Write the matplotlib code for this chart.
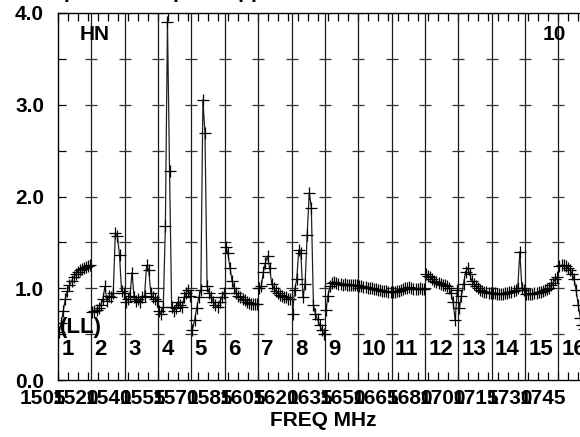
import matplotlib
matplotlib.use('Agg')
import matplotlib.pyplot as plt
import matplotlib.transforms as mtransforms
import numpy as np

plt.rcParams['font.family'] = ['Liberation Sans', 'DejaVu Sans']

# ---------------- data ----------------
if_numbers = list(range(1, 17))
freq_labels = ['1505', '1520', '1540', '1555', '1570', '1585', '1605', '1620',
               '1635', '1650', '1665', '1680', '1700', '1715', '1730', '1745']
y_ticks = [0.0, 1.0, 2.0, 3.0, 4.0]
y_labels = ['0.0', '1.0', '2.0', '3.0', '4.0']

if01 = [0.52, 0.62, 0.75, 0.88, 0.97, 1.03, 1.08, 1.12, 1.15, 1.18, 1.20, 1.21, 1.22, 1.23, 1.24, 1.25]
if02 = [0.74, 0.75, 0.76, 0.78, 0.82, 0.88, 1.02, 0.86, 0.92, 0.90, 0.95, 1.60, 1.57, 1.36, 0.97, 0.95]
if03 = [0.85, 0.88, 0.92, 1.17, 0.90, 0.86, 0.88, 0.85, 0.90, 0.92, 1.25, 1.20, 0.95, 0.90, 0.88, 0.86]
if04 = [0.75, 0.72, 0.80, 1.68, 3.90, 2.28, 0.80, 0.75, 0.78, 0.85, 0.82, 0.80, 0.90, 0.95, 0.98, 0.92]
if05 = [0.55, 0.65, 0.78, 0.90, 0.98, 3.05, 2.69, 1.02, 0.95, 0.90, 0.85, 0.82, 0.80, 0.85, 0.90, 0.95]
if06 = [1.45, 1.38, 1.22, 1.08, 1.00, 0.95, 0.92, 0.90, 0.88, 0.87, 0.85, 0.84, 0.83, 0.83, 0.83, 0.83]
if07 = [1.00, 1.02, 1.18, 1.28, 1.35, 1.22, 1.05, 1.00, 0.97, 0.95, 0.93, 0.92, 0.90, 0.90, 0.88, 0.88]
if08 = [0.72, 0.98, 1.10, 1.42, 1.38, 0.90, 1.05, 1.58, 2.04, 1.88, 0.82, 0.72, 0.66, 0.60, 0.55, 0.50]
if09 = [0.76, 0.92, 1.02, 1.06, 1.07, 1.06, 1.05, 1.05, 1.04, 1.05, 1.04, 1.04, 1.03, 1.04, 1.03, 1.03]
if10 = [1.02, 1.02, 1.01, 1.01, 1.00, 1.00, 1.00, 0.99, 0.99, 0.98, 0.98, 0.97, 0.97, 0.97, 0.96, 0.96]
if11 = [0.96, 0.96, 0.97, 0.97, 0.98, 0.99, 1.00, 1.00, 1.01, 1.00, 0.99, 0.99, 0.99, 1.00, 0.99, 0.99]
if12 = [1.15, 1.13, 1.12, 1.10, 1.08, 1.07, 1.06, 1.05, 1.04, 1.03, 1.02, 1.00, 0.95, 0.85, 0.65, 0.98]
if13 = [0.78, 0.92, 1.05, 1.18, 1.22, 1.15, 1.08, 1.05, 1.02, 1.00, 0.98, 0.97, 0.96, 0.96, 0.95, 0.95]
if14 = [0.95, 0.95, 0.94, 0.94, 0.94, 0.94, 0.95, 0.95, 0.96, 0.96, 0.97, 0.98, 1.00, 1.40, 1.00, 0.98]
if15 = [0.94, 0.94, 0.94, 0.94, 0.95, 0.95, 0.96, 0.96, 0.97, 0.98, 0.99, 1.00, 1.03, 1.06, 1.10, 1.12]
if16 = [1.24, 1.25, 1.25, 1.24, 1.22, 1.20, 1.16, 1.10, 0.98, 0.82, 0.68, 0.60, 0.56, 0.54, 0.52, 0.50]

panels = [if01, if02, if03, if04, if05, if06, if07, if08,
          if09, if10, if11, if12, if13, if14, if15, if16]

# ---------------- layout ----------------
W, H = 580, 437
PW = 33.36                      # panel width in px
X0, X1 = 58, 58 + 16 * PW
Y0, Y1 = 380, 13

fig = plt.figure(figsize=(W / 100, H / 100), dpi=100)
ax = fig.add_axes([X0 / W, (H - Y0) / H, (X1 - X0) / W, (Y0 - Y1) / H])
ax.set_xlim(0, 16)
ax.set_ylim(0, 4)

FS = 15

# data
for i, vals in enumerate(panels):
    n = len(vals)
    xs = i + (np.arange(n) + 0.5) / n
    ax.plot(xs, vals, color='#202020', lw=0.9, marker='+', ms=9, mew=0.9,
            markeredgecolor='black', zorder=3)

# panel separator lines and crosses
half = 6 / PW
cross_y = np.arange(0.5, 4.01, 0.5)
for i in range(1, 17):
    ax.axvline(i, color='#1a1a1a', lw=0.9, zorder=2)
    ax.hlines(cross_y, i - half, i + half, color='#333333', lw=0.9, zorder=2)

# axes ticks
ax.set_yticks(y_ticks, y_labels)
ax.set_yticks(np.arange(0.5, 4.0, 1.0), minor=True)
ax.set_xticks([])
ax.set_xticks(np.arange(0, 16.01, 0.3), minor=True)
ax.tick_params(axis='y', which='both', direction='in', length=6, width=0.9,
               labelsize=FS, pad=10, right=False)
ax.tick_params(axis='x', which='minor', direction='in', length=6, width=0.9,
               top=True, bottom=True)
for lab in ax.get_yticklabels():
    lab.set_fontweight('bold')
for s in ax.spines.values():
    s.set_linewidth(1.0)
    s.set_color('black')

# x labels (overlapping frequency labels)
trans = mtransforms.blended_transform_factory(ax.transData, ax.transAxes)
for i, lab in enumerate(freq_labels):
    ax.text(i - 0.46, -(399 - Y0) / (Y0 - Y1), lab, transform=trans,
            ha='center', va='center', fontsize=FS, fontweight='bold', clip_on=False)

fig.text(323 / W, 1 - 420 / H, 'FREQ MHz', ha='center', va='center',
         fontsize=FS, fontweight='bold')

# panel numbers
for i, n in enumerate(if_numbers):
    ax.text(i + 0.1, 0.33, str(n), ha='left', va='center', fontsize=16,
            fontweight='bold')

ax.text(0.06, 0.57, '(LL)', ha='left', va='center', fontsize=16, fontweight='bold')
ax.text(0.66, 3.77, 'HN', ha='left', va='center', fontsize=FS, fontweight='bold')
ax.text(14.54, 3.77, '10', ha='left', va='center', fontsize=FS, fontweight='bold')

# clipped title at the very top (only its lowest pixels show)
fig.text(300 / W, 1 + 2.0 / H, 'Plot of bandpass  bandpass applied', ha='right',
         va='baseline', fontsize=FS, fontweight='bold')

fig.savefig('out.png', dpi=100)
